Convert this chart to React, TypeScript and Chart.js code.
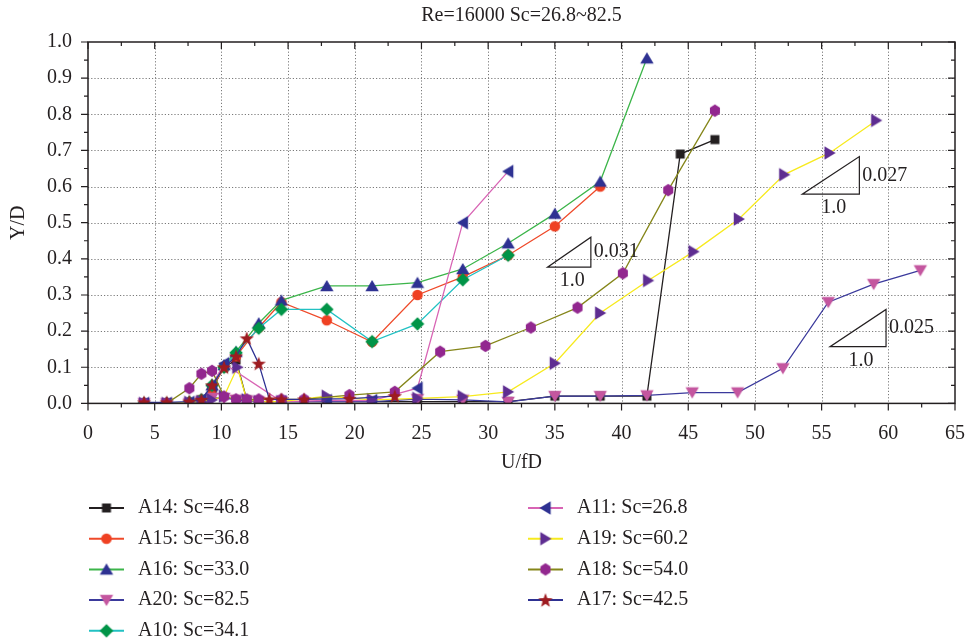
import { useEffect, useRef } from "react";
import { Chart, registerables } from "chart.js";

Chart.register(...registerables);

// ---------------- data ----------------
const chartTitle = "Re=16000 Sc=26.8~82.5";
const xTitle = "U/fD";
const yTitle = "Y/D";

const a14X = [4.2, 5.9, 7.6, 8.5, 9.3, 10.2, 11.1, 11.9, 12.8, 14.5, 17.9, 21.3, 24.7, 28.1, 31.5, 35.0, 38.4, 41.9, 44.4, 47.0];
const a14Y = [0, 0, 0, 0.01, 0.04, 0.1, 0.12, 0.01, 0.005, 0.005, 0.005, 0.005, 0.005, 0.005, 0.005, 0.02, 0.02, 0.02, 0.69, 0.73];

const a15X = [4.2, 5.9, 7.6, 8.5, 9.3, 10.2, 11.1, 12.8, 14.5, 17.9, 21.3, 24.7, 28.1, 31.5, 35.0, 38.4];
const a15Y = [0, 0, 0.003, 0.01, 0.04, 0.1, 0.13, 0.21, 0.28, 0.23, 0.17, 0.3, 0.35, 0.41, 0.49, 0.6];

const a16X = [4.2, 5.9, 7.6, 8.5, 9.3, 10.2, 11.1, 12.8, 14.5, 17.9, 21.3, 24.7, 28.1, 31.5, 35.0, 38.4, 41.9];
const a16Y = [0, 0, 0.003, 0.01, 0.05, 0.106, 0.143, 0.222, 0.285, 0.325, 0.325, 0.334, 0.372, 0.443, 0.525, 0.614, 0.955];

const a20X = [4.2, 5.9, 7.6, 8.5, 9.3, 10.2, 11.1, 11.9, 12.8, 14.5, 17.9, 21.3, 24.7, 28.1, 31.5, 35.0, 38.4, 41.9, 45.3, 48.7, 52.1, 55.5, 58.9, 62.4];
const a20Y = [0, 0, 0, 0.005, 0.015, 0.015, 0.01, 0.008, 0.005, 0.005, 0.005, 0.005, 0.012, 0.01, 0.004, 0.02, 0.02, 0.022, 0.03, 0.03, 0.097, 0.28, 0.33, 0.368];

const a10X = [4.2, 5.9, 7.6, 8.5, 9.3, 10.2, 11.1, 12.8, 14.5, 17.9, 21.3, 24.7, 28.1, 31.5];
const a10Y = [0, 0, 0.003, 0.01, 0.05, 0.1, 0.14, 0.208, 0.26, 0.26, 0.171, 0.22, 0.342, 0.41];

const a11X = [4.2, 5.9, 7.6, 8.5, 9.3, 10.2, 14.5, 17.9, 21.3, 24.7, 28.1, 31.5];
const a11Y = [0, 0, 0.003, 0.01, 0.05, 0.11, 0.005, 0.008, 0.008, 0.042, 0.5, 0.642];

const a19X = [4.2, 5.9, 7.6, 8.5, 9.3, 10.2, 11.2, 11.9, 12.8, 14.5, 17.9, 21.3, 24.7, 28.1, 31.5, 35.0, 38.4, 42.0, 45.4, 48.8, 52.2, 55.6, 59.1];
const a19Y = [0, 0, 0.003, 0.005, 0.01, 0.02, 0.1, 0.01, 0.005, 0.005, 0.02, 0.01, 0.014, 0.019, 0.032, 0.111, 0.25, 0.34, 0.42, 0.51, 0.633, 0.693, 0.783];

const a18X = [4.2, 5.9, 7.6, 8.5, 9.3, 10.2, 11.1, 11.9, 12.8, 14.5, 16.2, 19.6, 23.0, 26.4, 29.8, 33.2, 36.7, 40.1, 43.5, 47.0];
const a18Y = [0, 0, 0.042, 0.082, 0.09, 0.019, 0.011, 0.011, 0.011, 0.011, 0.011, 0.023, 0.032, 0.143, 0.159, 0.21, 0.265, 0.36, 0.59, 0.81];

const a17X = [4.2, 5.9, 7.6, 8.5, 9.3, 10.2, 11.1, 11.9, 12.8, 13.6, 14.5, 16.2, 19.6, 23.0];
const a17Y = [0.003, 0.003, 0.005, 0.01, 0.05, 0.1, 0.13, 0.18, 0.11, 0.011, 0.011, 0.011, 0.013, 0.02];

const seriesLabels = [
  "A14: Sc=46.8",
  "A15: Sc=36.8",
  "A16: Sc=33.0",
  "A20: Sc=82.5",
  "A10: Sc=34.1",
  "A11: Sc=26.8",
  "A19: Sc=60.2",
  "A18: Sc=54.0",
  "A17: Sc=42.5",
];
const seriesX = [a14X, a15X, a16X, a20X, a10X, a11X, a19X, a18X, a17X];
const seriesY = [a14Y, a15Y, a16Y, a20Y, a10Y, a11Y, a19Y, a18Y, a17Y];

// slope triangles (data coordinates)
const slopeX0 = [34.45, 53.55, 55.63];
const slopeX1 = [37.7, 57.83, 59.83];
const slopeY0 = [0.377, 0.579, 0.157];
const slopeY1 = [0.46, 0.683, 0.26];
const slopeText = ["0.031", "0.027", "0.025"];
const runText = "1.0";

// ---------------- styles ----------------
const FONT = "'Liberation Serif', 'DejaVu Serif', serif";
const TEXT = "#231f20";
const lineColors = ["#231f20", "#ef4a2a", "#3cb54a", "#3b3a9c", "#22c1c3", "#d864b4", "#f7ea1e", "#85861a", "#2e3192"];
const markerColors = ["#231f20", "#ef4123", "#2e3192", "#c4569f", "#009447", "#2e3192", "#5e2d91", "#92278f", "#9e1b20"];
const markerShapes = ["square", "circle", "triUp", "triDown", "diamond", "triLeft", "triRight", "hexagon", "star"];

function makeMarker(shape: string, color: string): HTMLCanvasElement {
  const size = 16;
  const c = document.createElement("canvas");
  c.width = size;
  c.height = size;
  const ctx = c.getContext("2d")!;
  ctx.translate(size / 2, size / 2);
  ctx.fillStyle = color;
  ctx.beginPath();
  const poly = (pts: number[][]) => {
    ctx.moveTo(pts[0][0], pts[0][1]);
    for (let i = 1; i < pts.length; i++) ctx.lineTo(pts[i][0], pts[i][1]);
    ctx.closePath();
  };
  switch (shape) {
    case "square":
      ctx.rect(-4.5, -4.5, 9, 9);
      break;
    case "circle":
      ctx.arc(0, 0, 5.3, 0, Math.PI * 2);
      break;
    case "triUp":
      poly([[0, -6], [6.7, 5.2], [-6.7, 5.2]]);
      break;
    case "triDown":
      poly([[0, 6], [6.7, -5.2], [-6.7, -5.2]]);
      break;
    case "triLeft":
      poly([[-6, 0], [5.2, -6.7], [5.2, 6.7]]);
      break;
    case "triRight":
      poly([[6, 0], [-5.2, -6.7], [-5.2, 6.7]]);
      break;
    case "diamond":
      poly([[0, -6.8], [6.8, 0], [0, 6.8], [-6.8, 0]]);
      break;
    case "hexagon": {
      const pts: number[][] = [];
      for (let k = 0; k < 6; k++) {
        const a = Math.PI / 2 + (k * Math.PI) / 3;
        pts.push([5.8 * Math.cos(a), 6.2 * Math.sin(a)]);
      }
      poly(pts);
      break;
    }
    case "star": {
      const pts: number[][] = [];
      for (let k = 0; k < 10; k++) {
        const r = k % 2 === 0 ? 7.5 : 3.1;
        const a = -Math.PI / 2 + (k * Math.PI) / 5;
        pts.push([r * Math.cos(a), r * Math.sin(a) + 0.6]);
      }
      poly(pts);
      break;
    }
  }
  ctx.fill();
  return c;
}

export default function App() {
  const ref = useRef<HTMLCanvasElement | null>(null);

  useEffect(() => {
    const canvas = ref.current;
    if (!canvas) return;
    const markers = markerShapes.map((s, i) => makeMarker(s, markerColors[i]));

    const datasets = seriesLabels.map((label, i) => ({
      label,
      data: seriesX[i].map((x, j) => ({ x, y: seriesY[i][j] })),
      borderColor: lineColors[i],
      backgroundColor: markerColors[i],
      borderWidth: 1.3,
      pointStyle: markers[i] as any,
      pointRadius: 6,
      tension: 0,
      fill: false,
      order: seriesLabels.length - i,
    }));

    const decor = {
      id: "decor",
      beforeDatasetsDraw(chart: any) {
        const { ctx, chartArea: a, scales } = chart;
        const xs = scales.x;
        const ys = scales.y;
        ctx.save();
        ctx.strokeStyle = "#7a7a7a";
        ctx.lineWidth = 1;
        ctx.setLineDash([1.2, 2]);
        for (let v = 5; v < 65; v += 5) {
          const px = Math.round(xs.getPixelForValue(v)) + 0.5;
          ctx.beginPath();
          ctx.moveTo(px, a.top);
          ctx.lineTo(px, a.bottom);
          ctx.stroke();
        }
        for (let k = 1; k < 10; k++) {
          const py = Math.round(ys.getPixelForValue(k / 10)) + 0.5;
          ctx.beginPath();
          ctx.moveTo(a.left, py);
          ctx.lineTo(a.right, py);
          ctx.stroke();
        }
        ctx.restore();
      },
      afterDraw(chart: any) {
        const { ctx, chartArea: a, scales } = chart;
        const xs = scales.x;
        const ys = scales.y;
        ctx.save();
        // frame
        ctx.strokeStyle = TEXT;
        ctx.lineWidth = 1.5;
        ctx.setLineDash([]);
        ctx.strokeRect(a.left, a.top, a.right - a.left, a.bottom - a.top);
        // ticks
        ctx.lineWidth = 1.2;
        for (let k = 0; k <= 26; k++) {
          const v = k * 2.5;
          const px = xs.getPixelForValue(v);
          const len = k % 2 === 0 ? 7 : 4;
          ctx.beginPath();
          ctx.moveTo(px, a.bottom);
          ctx.lineTo(px, a.bottom + len);
          ctx.moveTo(px, a.top);
          ctx.lineTo(px, a.top + len);
          ctx.stroke();
        }
        for (let k = 0; k <= 20; k++) {
          const py = ys.getPixelForValue(k * 0.05);
          const len = k % 2 === 0 ? 7 : 4;
          ctx.beginPath();
          ctx.moveTo(a.left, py);
          ctx.lineTo(a.left - len, py);
          ctx.moveTo(a.right, py);
          ctx.lineTo(a.right - len, py);
          ctx.stroke();
        }
        // slope triangles
        ctx.fillStyle = TEXT;
        ctx.font = `20px ${FONT}`;
        ctx.lineWidth = 1.2;
        for (let i = 0; i < slopeText.length; i++) {
          const x0 = xs.getPixelForValue(slopeX0[i]);
          const x1 = xs.getPixelForValue(slopeX1[i]);
          const y0 = ys.getPixelForValue(slopeY0[i]);
          const y1 = ys.getPixelForValue(slopeY1[i]);
          ctx.beginPath();
          ctx.moveTo(x0, y0);
          ctx.lineTo(x1, y0);
          ctx.lineTo(x1, y1);
          ctx.closePath();
          ctx.stroke();
          ctx.textAlign = "left";
          ctx.textBaseline = "middle";
          ctx.fillText(slopeText[i], x1 + 3, (y0 + y1) / 2);
          ctx.textAlign = "center";
          ctx.fillText(runText, (x0 + x1) / 2 + 3, y0 + 14);
        }
        // titles
        ctx.textAlign = "center";
        ctx.textBaseline = "middle";
        ctx.font = `20px ${FONT}`;
        ctx.fillText(chartTitle, (a.left + a.right) / 2, 16);
        ctx.fillText(xTitle, (a.left + a.right) / 2, 463);
        ctx.save();
        ctx.translate(19, (a.top + a.bottom) / 2);
        ctx.rotate(-Math.PI / 2);
        ctx.fillText(yTitle, 0, 0);
        ctx.restore();
        // legend
        const colX = [89, 528];
        const rowY0 = 508;
        const rowH = 30.7;
        for (let i = 0; i < seriesLabels.length; i++) {
          const col = i < 5 ? 0 : 1;
          const row = i < 5 ? i : i - 5;
          const lx = colX[col];
          const ly = rowY0 + row * rowH;
          ctx.strokeStyle = lineColors[i];
          ctx.lineWidth = 2;
          ctx.beginPath();
          ctx.moveTo(lx, ly);
          ctx.lineTo(lx + 35, ly);
          ctx.stroke();
          const m = markers[i];
          ctx.drawImage(m, lx + 17.5 - m.width / 2, ly - m.height / 2);
          ctx.fillStyle = TEXT;
          ctx.textAlign = "left";
          ctx.textBaseline = "middle";
          ctx.fillText(seriesLabels[i], lx + 49, ly);
        }
        ctx.restore();
      },
    };

    const chart = new Chart(canvas, {
      type: "line",
      data: { datasets: datasets as any },
      options: {
        animation: false,
        responsive: false,
        devicePixelRatio: 1,
        layout: { padding: { left: 0, top: 42, right: 11, bottom: 178.6 } },
        plugins: {
          legend: { display: false },
          title: { display: false },
          tooltip: { enabled: false },
        },
        scales: {
          x: {
            type: "linear",
            min: 0,
            max: 65,
            grid: { display: false, drawTicks: false },
            border: { display: false },
            ticks: {
              stepSize: 5,
              padding: 18,
              color: TEXT,
              font: { family: FONT, size: 20 },
              maxRotation: 0,
              autoSkip: false,
            },
            afterFit: (s: any) => {
              s.height = 60;
              s.paddingLeft = 0;
              s.paddingRight = 0;
            },
          },
          y: {
            type: "linear",
            min: 0,
            max: 1,
            grid: { display: false, drawTicks: false },
            border: { display: false },
            ticks: {
              stepSize: 0.1,
              padding: 16,
              color: TEXT,
              font: { family: FONT, size: 20 },
              callback: (v: any) => Number(v).toFixed(1),
            },
            afterFit: (s: any) => {
              s.width = 88;
              s.paddingTop = 0;
              s.paddingBottom = 0;
            },
          },
        },
      },
      plugins: [decor],
    });
    return () => chart.destroy();
  }, []);

  return (
    <canvas
      ref={ref}
      width={966}
      height={642}
      style={{ position: "absolute", left: 0, top: 0, width: 966, height: 642 }}
    />
  );
}
